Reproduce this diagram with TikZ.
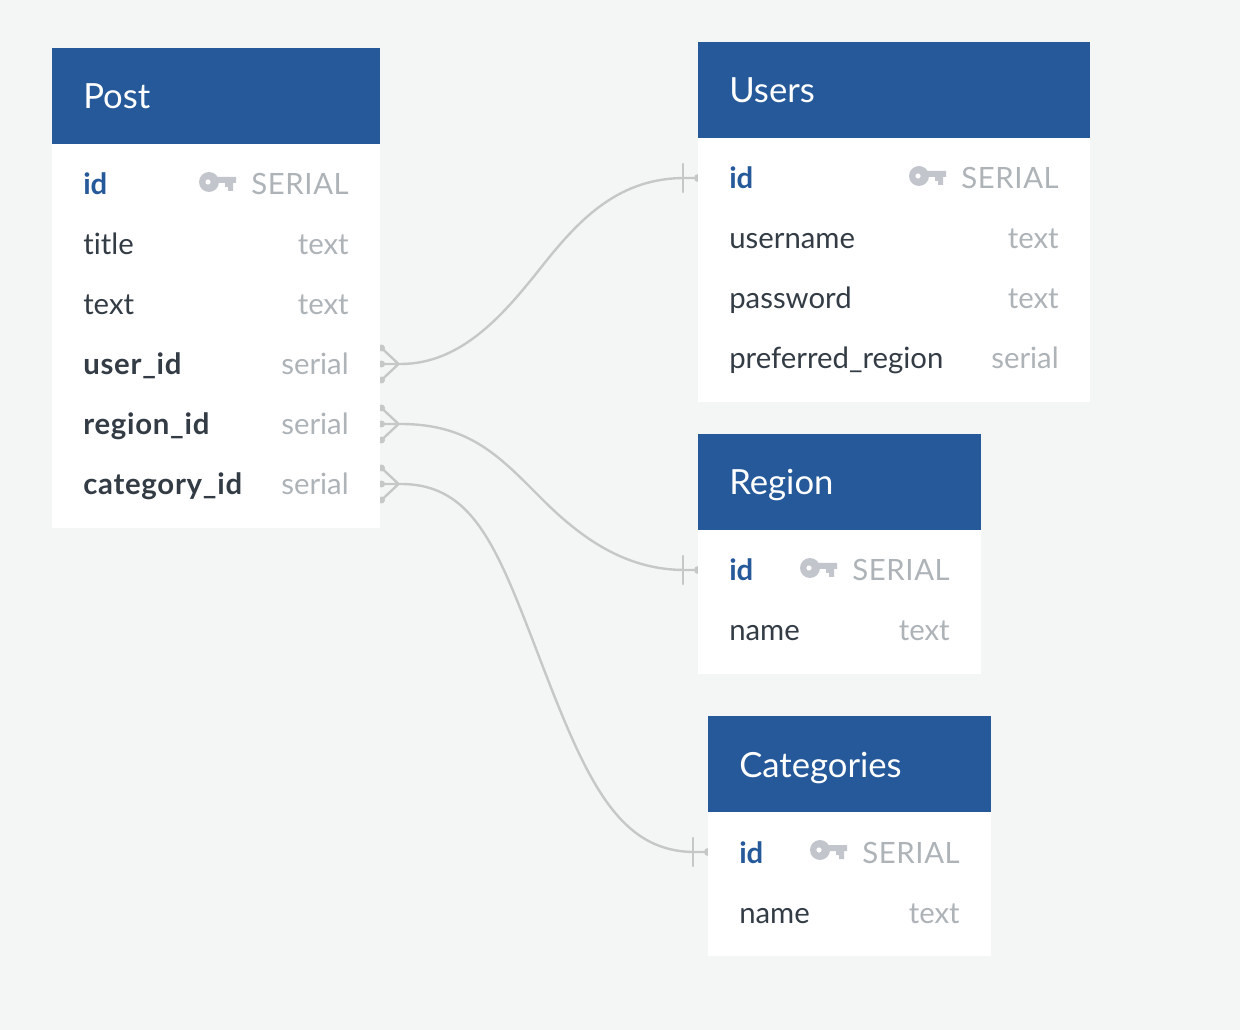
\documentclass[tikz,border=0pt]{standalone}
\usepackage{fontspec}
\setmainfont[Ligatures=CommonOff]{Lato}
\usetikzlibrary{backgrounds}
\definecolor{bgc}{HTML}{F4F6F5}
\definecolor{headc}{HTML}{25599A}
\definecolor{darkc}{HTML}{333C45}
\definecolor{grayc}{HTML}{AEB3B8}
\definecolor{keyc}{HTML}{C2C6CC}
\definecolor{linec}{HTML}{C6C8C8}
\newcommand{\fsize}{\fontsize{22pt}{26pt}\selectfont}
\tikzset{
  tablebody/.style={fill=white,draw=none,minimum width=#1*0.75pt,minimum height=0pt,inner sep=0pt,anchor=north west},
  headbox/.style={fill=headc,draw=none,inner sep=0pt,anchor=north west,minimum height=72pt,minimum width=#1*0.75pt},
  headtext/.style={text=white,font=\fontsize{26pt}{30pt}\selectfont,anchor=base west,inner sep=0pt},
  fieldname/.style={text=darkc,font=\fsize,anchor=base west,inner sep=0pt},
  fieldbold/.style={fieldname,font=\fsize\bfseries\addfontfeatures{LetterSpace=2.5}},
  fieldid/.style={fieldname,font=\fsize\bfseries,text=headc},
  fieldtype/.style={text=grayc,font=\fsize,anchor=base east,inner sep=0pt},
  fieldserial/.style={fieldtype,font=\fsize\addfontfeatures{LetterSpace=2}},
  rel/.style={draw=linec,line width=1.8pt,line cap=round},
}
% key icon: #1 = x of circle centre, #2 = y of circle centre
\newcommand{\keyicon}[2]{%
  \fill[keyc] (#1,#2) circle[radius=10];
  \fill[keyc] (#1+6,#2-5) -- (#1+27,#2-5) -- (#1+27,#2+1) -- (#1+24,#2+1) -- (#1+24,#2+9) -- (#1+19,#2+9) -- (#1+19,#2+5) -- (#1+16,#2+5) -- (#1+16,#2+1) -- (#1+6,#2+1) -- cycle;
  \fill[white] (#1-1,#2) circle[radius=2.6];
}
\begin{document}
\begin{tikzpicture}[x=0.75pt,y=-0.75pt]
\useasboundingbox (0,0) rectangle (1240,1030);

% Post
\node[tablebody=328,minimum height=384*0.75pt] (post) at (52,144) {};
\node[headbox=328] (posth) at (52,48) {};
\node[headtext] (postt) at (83,109) {Post};
\node[fieldid] (p1) at (83,195) {id};
\keyicon{209}{182}
\node[fieldserial] (p1t) at (349,195) {SERIAL};
\node[fieldname] (p2) at (83,255) {title};
\node[fieldtype] (p2t) at (349,255) {text};
\node[fieldname] (p3) at (83,315) {text};
\node[fieldtype] (p3t) at (349,315) {text};
\node[fieldbold] (p4) at (83,375) {user\_id};
\node[fieldtype] (p4t) at (349,375) {serial};
\node[fieldbold] (p5) at (83,435) {region\_id};
\node[fieldtype] (p5t) at (349,435) {serial};
\node[fieldbold] (p6) at (83,495) {category\_id};
\node[fieldtype] (p6t) at (349,495) {serial};

% Users
\node[tablebody=392,minimum height=264*0.75pt] (users) at (698,138) {};
\node[headbox=392] (usersh) at (698,42) {};
\node[headtext] (userst) at (729,103) {Users};
\node[fieldid] (u1) at (729,189) {id};
\keyicon{919}{176}
\node[fieldserial] (u1t) at (1059,189) {SERIAL};
\node[fieldname] (u2) at (729,249) {username};
\node[fieldtype] (u2t) at (1059,249) {text};
\node[fieldname] (u3) at (729,309) {password};
\node[fieldtype] (u3t) at (1059,309) {text};
\node[fieldname] (u4) at (729,369) {preferred\_region};
\node[fieldtype] (u4t) at (1059,369) {serial};

% Region
\node[tablebody=283,minimum height=144*0.75pt] (region) at (698,530) {};
\node[headbox=283] (regionh) at (698,434) {};
\node[headtext] (regiont) at (729,495) {Region};
\node[fieldid] (r1) at (729,581) {id};
\keyicon{810}{568}
\node[fieldserial] (r1t) at (950,581) {SERIAL};
\node[fieldname] (r2) at (729,641) {name};
\node[fieldtype] (r2t) at (950,641) {text};

% Categories
\node[tablebody=283,minimum height=144*0.75pt] (cats) at (708,812) {};
\node[headbox=283] (catsh) at (708,716) {};
\node[headtext] (catst) at (739,777) {Categories};
\node[fieldid] (c1) at (739,863) {id};
\keyicon{820}{850}
\node[fieldserial] (c1t) at (960,863) {SERIAL};
\node[fieldname] (c2) at (739,923) {name};
\node[fieldtype] (c2t) at (960,923) {text};

% connection points on the table edges
\coordinate (sUser) at ([shift={(1,220)}]post.north east);
\coordinate (sRegion) at ([shift={(1,280)}]post.north east);
\coordinate (sCat) at ([shift={(1,340)}]post.north east);
\coordinate (eUser) at ([shift={(0,40)}]users.north west);
\coordinate (eRegion) at ([shift={(0,40)}]region.north west);
\coordinate (eCat) at ([shift={(0,40)}]cats.north west);
\coordinate (mUser) at (543,265);
\coordinate (mRegion) at (543,500);
\coordinate (mCat) at (543,667);

\begin{scope}[on background layer]
\fill[bgc] (0,0) rectangle (1240,1030);
% connectors
\draw[rel] (sUser) -- ++(19,0) .. controls +(62,0) and +(-38,48) .. (mUser) .. controls +(38,-48) and +(-65,0) .. ([xshift=-13*0.75pt]eUser) -- (eUser);
\draw[rel] (sRegion) -- ++(19,0) .. controls +(70,0) and +(-43,-43) .. (mRegion) .. controls +(43,43) and +(-55,0) .. ([xshift=-13*0.75pt]eRegion) -- (eRegion);
\draw[rel] (sCat) -- ++(19,0) .. controls +(75,0) and +(-45,-117) .. (mCat) .. controls +(45,117) and +(-75,0) .. ([xshift=-13*0.75pt]eCat) -- (eCat);

% crow's feet
\foreach \s in {sUser,sRegion,sCat}{
  \draw[rel] (\s) ++(17,0) -- ++(-17,-16);
  \draw[rel] (\s) ++(17,0) -- ++(-17,16);
  \fill[linec] (\s) ++(0,-16) circle[radius=3.5];
  \fill[linec] (\s) circle[radius=3.5];
  \fill[linec] (\s) ++(0,16) circle[radius=3.5];
}
% one-bars
\foreach \e in {eUser,eRegion,eCat}{
  \draw[rel] (\e) ++(-15,-14) -- ++(0,28);
  \fill[linec] (\e) circle[radius=4];
}
\end{scope}
\end{tikzpicture}
\end{document}
